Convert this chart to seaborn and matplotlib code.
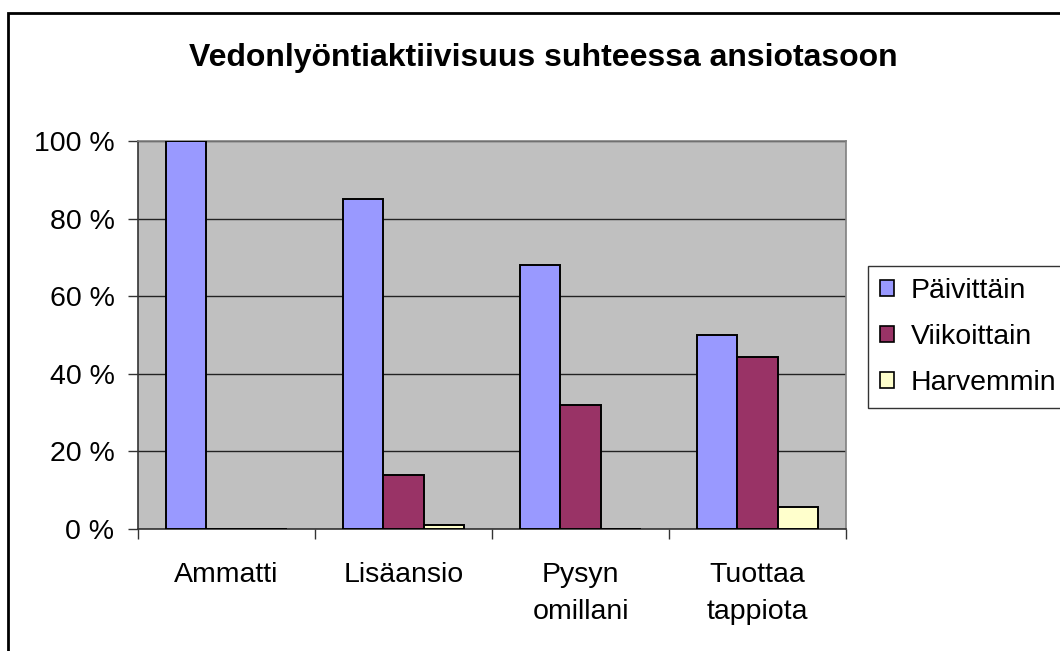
import numpy as np
import pandas as pd
import seaborn as sns
import matplotlib.pyplot as plt
from matplotlib.patches import Rectangle, Patch
from matplotlib.ticker import FuncFormatter, FixedLocator

# data
categories = ['Ammatti', 'Lisäansio', 'Pysyn\nomillani', 'Tuottaa\ntappiota']
series = ['Päivittäin', 'Viikoittain', 'Harvemmin']
paivittain = [100, 85, 68, 50]
viikoittain = [0, 14, 32, 44.3]
harvemmin = [0, 1, 0, 5.7]
colors = ['#9999FF', '#993366', '#FFFFCC']

df = pd.DataFrame({
    'cat': categories * 3,
    'series': [series[0]] * 4 + [series[1]] * 4 + [series[2]] * 4,
    'value': paivittain + viikoittain + harvemmin,
})

sns.set_style('white')
plt.rcParams['font.family'] = ['Liberation Sans', 'DejaVu Sans']
plt.rcParams['text.color'] = 'black'
plt.rcParams['xtick.color'] = 'black'
plt.rcParams['ytick.color'] = 'black'

fs = 20.5

fig = plt.figure(figsize=(10.6, 6.51), dpi=100)
ax = fig.add_axes([138 / 1060, 1 - 529 / 651, 708 / 1060, 388 / 651])
ax.set_facecolor('#C0C0C0')

sns.barplot(data=df, x='cat', y='value', hue='series', palette=colors, saturation=1,
            width=0.68, edgecolor='black', linewidth=1.4, legend=False,
            ax=ax, zorder=3)

ax.set_ylim(0, 100)
ax.set_xlim(-0.5, 3.5)
ax.set_yticks([0, 20, 40, 60, 80, 100])
ax.yaxis.set_major_formatter(FuncFormatter(lambda v, p: f'{int(v)} %'))
ax.grid(axis='y', color='#222222', linewidth=1.0, zorder=0)
ax.set_axisbelow(True)

# category labels centred, tick marks at the category borders
ax.xaxis.set_major_locator(FixedLocator([-0.5, 0.5, 1.5, 2.5, 3.5]))
ax.set_xticklabels([])
ax.xaxis.set_minor_locator(FixedLocator([0, 1, 2, 3]))
ax.set_xticklabels(categories, minor=True)
ax.tick_params(axis='x', which='major', direction='out', length=7, width=1, color='#333333', bottom=True)
ax.tick_params(axis='x', which='minor', length=0, pad=24, labelsize=fs)
ax.tick_params(axis='y', direction='out', length=7, width=1, color='#333333', pad=10, labelsize=fs, left=True)
for lab in ax.get_xticklabels(minor=True):
    lab.set_linespacing(1.55)
ax.set_xlabel('')
ax.set_ylabel('')

for side in ['top', 'right']:
    ax.spines[side].set_color('#808080')
    ax.spines[side].set_linewidth(1.2)
for side in ['left', 'bottom']:
    ax.spines[side].set_color('#333333')
    ax.spines[side].set_linewidth(1.2)

fig.text(543 / 1060, 1 - 58 / 651, 'Vedonlyöntiaktiivisuus suhteessa ansiotasoon',
         ha='center', va='center', fontsize=23, fontweight='bold')

handles = [Patch(facecolor=c, edgecolor='black', linewidth=1.2) for c in colors]
leg = fig.legend(handles, series, loc='upper left', bbox_to_anchor=(868 / 1060, 1 - 266 / 651),
                 fontsize=fs, frameon=True, fancybox=False, edgecolor='black',
                 handlelength=0.48, handleheight=0.48, handletextpad=0.6,
                 labelspacing=0.7, borderpad=0.42, borderaxespad=0)
leg.get_frame().set_linewidth(1.0)

# chart border
fig.patches.append(Rectangle((8 / 1060, -0.1), 1.2, 1 - 13 / 651 + 0.1, transform=fig.transFigure,
                             fill=False, edgecolor='black', linewidth=2, clip_on=False))

fig.savefig('out.png', dpi=100)
